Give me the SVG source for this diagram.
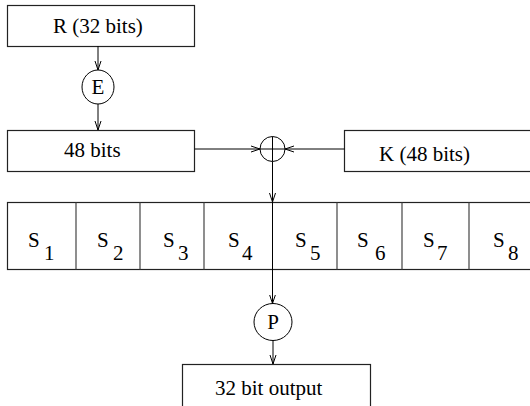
<svg xmlns="http://www.w3.org/2000/svg" width="530" height="406" viewBox="0 0 530 406">
  <defs>
    <marker id="arr" markerWidth="10" markerHeight="8" refX="9" refY="4" orient="auto" markerUnits="userSpaceOnUse">
      <path d="M0,1 L9,4 L0,7" fill="none" stroke="#000" stroke-width="1"/>
    </marker>
  </defs>
  <style>
    .box { fill: #fff; stroke: #222; stroke-width: 1.2; }
    .div { stroke: #444; stroke-width: 1.2; }
    .node { fill: #fff; stroke: #000; stroke-width: 1; }
    .wire { stroke: #000; stroke-width: 1; fill: none; }
    .arrow { stroke: #000; stroke-width: 1; fill: none; marker-end: url(#arr); }
  </style>
  <rect width="530" height="406" fill="#fff"/>

  <g font-family="Liberation Serif, DejaVu Serif, serif" font-size="21" fill="#000">
  <!-- input half-block -->
  <g id="r-input">
    <rect class="box" x="7.5" y="5.5" width="187" height="41"/>
    <text x="53" y="32.5">R (32 bits)</text>
  </g>

  <!-- expansion permutation -->
  <g id="expand">
    <ellipse class="node" cx="98" cy="87" rx="16" ry="17"/>
    <text x="98" y="94" text-anchor="middle">E</text>
  </g>

  <g id="expanded">
    <rect class="box" x="7.5" y="130.5" width="187" height="41"/>
    <text x="64" y="157">48 bits</text>
  </g>

  <!-- XOR with subkey -->
  <g id="xor">
    <circle class="node" cx="272.5" cy="149" r="12.5"/>
    <line class="wire" x1="260" y1="149" x2="285" y2="149"/>
    <line class="wire" x1="272.5" y1="136.5" x2="272.5" y2="161.5"/>
  </g>

  <g id="subkey">
    <rect class="box" x="344.5" y="130.5" width="200" height="41"/>
    <text x="379" y="161">K (48 bits)</text>
  </g>

  <!-- substitution boxes -->
  <g id="sboxes">
    <rect class="box" x="7.5" y="202.5" width="540" height="67"/>
    <line class="div" x1="76" y1="202.5" x2="76" y2="269.5"/>
    <line class="div" x1="140" y1="202.5" x2="140" y2="269.5"/>
    <line class="div" x1="204" y1="202.5" x2="204" y2="269.5"/>
    <line class="div" x1="337" y1="202.5" x2="337" y2="269.5"/>
    <line class="div" x1="402" y1="202.5" x2="402" y2="269.5"/>
    <line class="div" x1="469" y1="202.5" x2="469" y2="269.5"/>
    <text x="28" y="247">S</text><text x="44" y="260">1</text>
    <text x="97" y="247">S</text><text x="113" y="260">2</text>
    <text x="163" y="247">S</text><text x="178" y="260">3</text>
    <text x="228" y="247">S</text><text x="242" y="260">4</text>
    <text x="295" y="247">S</text><text x="310" y="260">5</text>
    <text x="357" y="247">S</text><text x="375" y="260">6</text>
    <text x="423" y="247">S</text><text x="437" y="260">7</text>
    <text x="493" y="247">S</text><text x="508" y="260">8</text>
  </g>

  <!-- output permutation -->
  <g id="permute">
    <ellipse class="node" cx="273" cy="322" rx="19" ry="18.5"/>
    <text x="273" y="329" text-anchor="middle">P</text>
  </g>

  <g id="output">
    <rect class="box" x="182.5" y="364.5" width="188" height="60"/>
    <text x="215" y="395">32 bit output</text>
  </g>
  </g>

  <!-- connectors -->
  <g id="connectors">
    <line class="arrow" x1="98" y1="46" x2="98" y2="70"/>
    <line class="arrow" x1="98" y1="104" x2="98" y2="130"/>
    <line class="arrow" x1="194.5" y1="149" x2="260" y2="149"/>
    <line class="arrow" x1="344.5" y1="149" x2="285" y2="149"/>
    <line class="arrow" x1="272.5" y1="161.5" x2="272.5" y2="202"/>
    <line class="wire" x1="272.5" y1="202" x2="272.5" y2="270"/>
    <line class="arrow" x1="272.5" y1="270" x2="272.5" y2="303.5"/>
    <line class="arrow" x1="273" y1="340.5" x2="273" y2="364"/>
  </g>
</svg>
